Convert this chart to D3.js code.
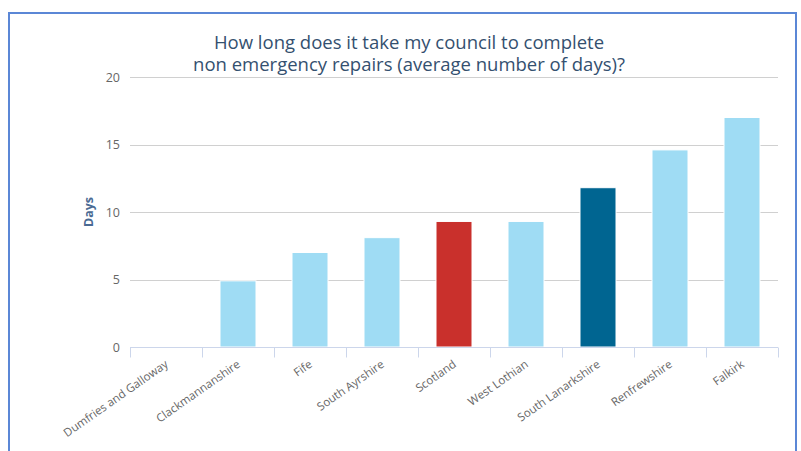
<!DOCTYPE html>
<html><head><meta charset="utf-8">
<script src="https://cdn.jsdelivr.net/npm/d3@7"></script>
<style>
html,body{margin:0;padding:0;background:#fff;}
svg{display:block;font-family:"Open Sans",sans-serif;}
</style></head>
<body>
<svg id="chart" width="801" height="451"></svg>
<script>
const categories = ["Dumfries and Galloway","Clackmannanshire","Fife","South Ayrshire","Scotland","West Lothian","South Lanarkshire","Renfrewshire","Falkirk"];
const values = [0, 4.9, 7.0, 8.1, 9.3, 9.3, 11.8, 14.6, 17.0];
const colors = ["#9fdcf4","#9fdcf4","#9fdcf4","#9fdcf4","#c9302c","#9fdcf4","#006591","#9fdcf4","#9fdcf4"];
const yTicks = [0, 5, 10, 15, 20];
const titleLines = ["How long does it take my council to complete","non emergency repairs (average number of days)?"];
const yTitle = "Days";

const svg = d3.select("#chart");
const W = 801, H = 451;
const m = {left:130, right:23, top:77, bottom:104};

// border
svg.append("rect").attr("x",9).attr("y",13).attr("width",787).attr("height",450)
  .attr("fill","#fff").attr("stroke","#5b87d6").attr("stroke-width",2);

const x = d3.scaleBand().domain(categories).range([m.left, W - m.right]).paddingInner(0).paddingOuter(0);
const y = d3.scaleLinear().domain([0,20]).range([H - m.bottom, m.top]);

// grid
svg.append("g").selectAll("line").data(yTicks.filter(d=>d>0)).join("line")
  .attr("x1", m.left).attr("x2", W - m.right)
  .attr("y1", d=>Math.round(y(d))+0.5).attr("y2", d=>Math.round(y(d))+0.5)
  .attr("stroke","#d0d0d0").attr("stroke-width",1);

// y labels
svg.append("g").selectAll("text").data(yTicks).join("text")
  .attr("x", 120).attr("y", d=>y(d)+4.5)
  .attr("text-anchor","end").attr("fill","#666").attr("font-size",12.5)
  .text(d=>d);

// y title
svg.append("text").attr("transform",`translate(93,${y(10)}) rotate(-90)`)
  .attr("text-anchor","middle").attr("fill","#4a6a93").attr("font-size",12.5).attr("font-weight","bold")
  .text(yTitle);

// bars
const bw = x.bandwidth()*0.5;
svg.append("g").selectAll("rect").data(values).join("rect")
  .attr("x",(d,i)=>x(categories[i]) + (x.bandwidth()-bw)/2)
  .attr("y", d=>y(d))
  .attr("width", bw)
  .attr("height", d=>y(0)-y(d))
  .attr("fill",(d,i)=>colors[i])
  .attr("stroke","#fff").attr("stroke-width",1)
  .attr("opacity", d=> d>0?1:0);

// x axis
const gx = svg.append("g").attr("transform",`translate(0,${Math.round(y(0))+0.5})`);
gx.append("line").attr("x1",m.left).attr("x2",W-m.right).attr("stroke","#ccd6eb");
gx.append("g").selectAll("line").data(categories.concat(["__end"])).join("line")
  .attr("x1",(d,i)=>Math.round(m.left + i*x.step())+0.5)
  .attr("x2",(d,i)=>Math.round(m.left + i*x.step())+0.5)
  .attr("y1",0).attr("y2",10).attr("stroke","#ccd6eb");

// x labels
svg.append("g").selectAll("text").data(categories).join("text")
  .attr("transform", d=>`translate(${x(d)+x.bandwidth()/2+3},${y(0)+19}) rotate(-35)`)
  .attr("text-anchor","end").attr("fill","#666").attr("font-size",11.5)
  .text(d=>d);

// title
svg.append("text").attr("x",409).attr("y",48.5).attr("text-anchor","middle")
  .attr("fill","#34506f").attr("font-size",18.5)
  .selectAll("tspan").data(titleLines).join("tspan")
  .attr("x",409).attr("dy",(d,i)=>i===0?0:22.5).text(d=>d);
</script>
</body></html>
